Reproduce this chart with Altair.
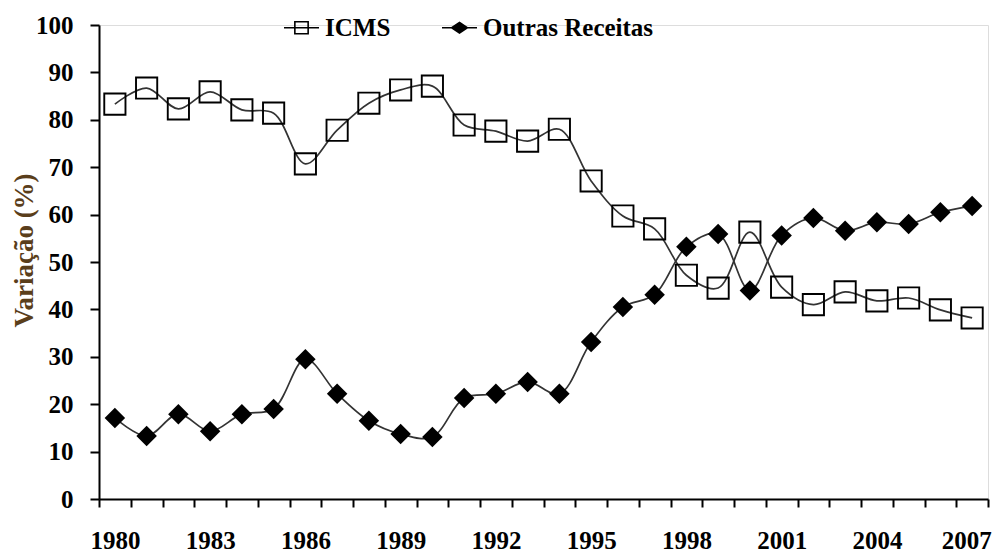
import altair as alt
import pandas as pd

years = list(range(1980, 2008))
icms = [83.3, 86.7, 82.3, 85.9, 82.1, 81.4, 70.7, 77.8, 83.5, 86.3, 87.1, 78.9, 77.6, 75.5,
        78.0, 67.1, 59.7, 57.0, 47.2, 44.5, 56.3, 44.7, 41.0, 43.7, 41.8, 42.4, 39.9, 38.2]
outras = [17.1, 13.3, 17.9, 14.3, 17.9, 19.0, 29.5, 22.2, 16.5, 13.7, 13.1, 21.3, 22.2, 24.7,
          22.2, 33.1, 40.5, 43.1, 53.2, 55.9, 44.0, 55.6, 59.3, 56.6, 58.4, 58.0, 60.5, 61.8]
series_names = ["ICMS", "Outras Receitas"]
y_ticks = [0, 10, 20, 30, 40, 50, 60, 70, 80, 90, 100]

rows = []
for i, yr in enumerate(years):
    rows.append({"year": yr, "series": series_names[0], "value": icms[i]})
    rows.append({"year": yr, "series": series_names[1], "value": outras[i]})
df = pd.DataFrame(rows)

FONT = "Liberation Serif"

x_enc = alt.X(
    "year:O",
    scale=alt.Scale(type="band", paddingInner=0, paddingOuter=0),
    axis=alt.Axis(
        title=None,
        labelExpr="(datum.value - 1980) % 3 == 0 ? datum.value : ''",
        labelAngle=0,
        tickBand="extent",
        tickSize=8,
        tickWidth=2,
        tickColor="black",
        domainColor="black",
        domainWidth=2,
        labelFont=FONT,
        labelFontWeight="bold",
        labelFontSize=25,
        labelColor="black",
        labelPadding=21,
        labelBaseline="top",
        labelOverlap=False,
        labelBound=False,
        labelOffset={"condition": {"test": "datum.value == 2007", "value": -6}, "value": 0},
        grid=False,
    ),
)
y_enc = alt.Y(
    "value:Q",
    scale=alt.Scale(domain=[0, 100], nice=False),
    axis=alt.Axis(
        title="Variação (%)",
        values=y_ticks,
        tickSize=9,
        tickWidth=2,
        tickColor="black",
        domainColor="black",
        domainWidth=2,
        labelFont=FONT,
        labelFontWeight="bold",
        labelFontSize=25,
        labelColor="black",
        labelPadding=17,
        grid=False,
        titleFont=FONT,
        titleFontWeight="bold",
        titleFontSize=27,
        titleColor="#5a3e1b",
        titleAngle=270,
        titleAlign="center",
        titleBaseline="middle",
        titleX=-75,
        titleY=225,
    ),
)

base = alt.Chart(df)

lines = base.mark_line(interpolate="catmull-rom", color="#333333", strokeWidth=1.7).encode(
    x=x_enc, y=y_enc, detail="series:N"
)

pts_icms = base.transform_filter(alt.datum.series == "ICMS").mark_point(
    shape="square", size=450, filled=False, color="black", strokeWidth=1.9, opacity=1
).encode(x=x_enc, y=y_enc)

pts_out = base.transform_filter(alt.datum.series == "Outras Receitas").mark_point(
    shape="diamond", size=420, filled=True, color="black", opacity=1
).encode(x=x_enc, y=y_enc)

sq_path = "M-1,0H1M-0.38,-0.34H0.38V0.34H-0.38Z"
dm_path = "M-1,0H1M0,-0.3L0.45,0L0,0.3L-0.45,0Z"

leg = alt.Legend(
    title=None,
    orient="none",
    direction="horizontal",
    legendX=184,
    legendY=-16,
    padding=0,
    symbolSize=1225,
    symbolStrokeColor="black",
    symbolStrokeWidth=1.6,
    symbolOpacity=1,
    labelFont=FONT,
    labelFontWeight="bold",
    labelFontSize=25,
    labelColor="black",
    labelOffset=5,
    labelLimit=400,
    columnPadding=47,
)

legend_layer = base.mark_point(filled=True, opacity=0, strokeWidth=1.6).encode(
    x=x_enc,
    y=y_enc,
    shape=alt.Shape("series:N", scale=alt.Scale(domain=series_names, range=[sq_path, dm_path]), legend=leg),
    fill=alt.Fill("series:N", scale=alt.Scale(domain=series_names, range=["transparent", "black"]), legend=leg),
    stroke=alt.Stroke("series:N", scale=alt.Scale(domain=series_names, range=["black", "black"]), legend=leg),
)

chart = (
    alt.layer(lines, legend_layer, pts_icms, pts_out)
    .resolve_scale(shape="independent", fill="independent", stroke="independent")
    .properties(
        width=889,
        height=474,
        autosize=alt.AutoSizeParams(type="none"),
        padding={"left": 91, "top": 17, "right": 4, "bottom": 54},
    )
    .configure_view(stroke=None)
    .configure(background="white")
)

chart.save("out.html", embed_options={"renderer": "svg", "actions": False})
